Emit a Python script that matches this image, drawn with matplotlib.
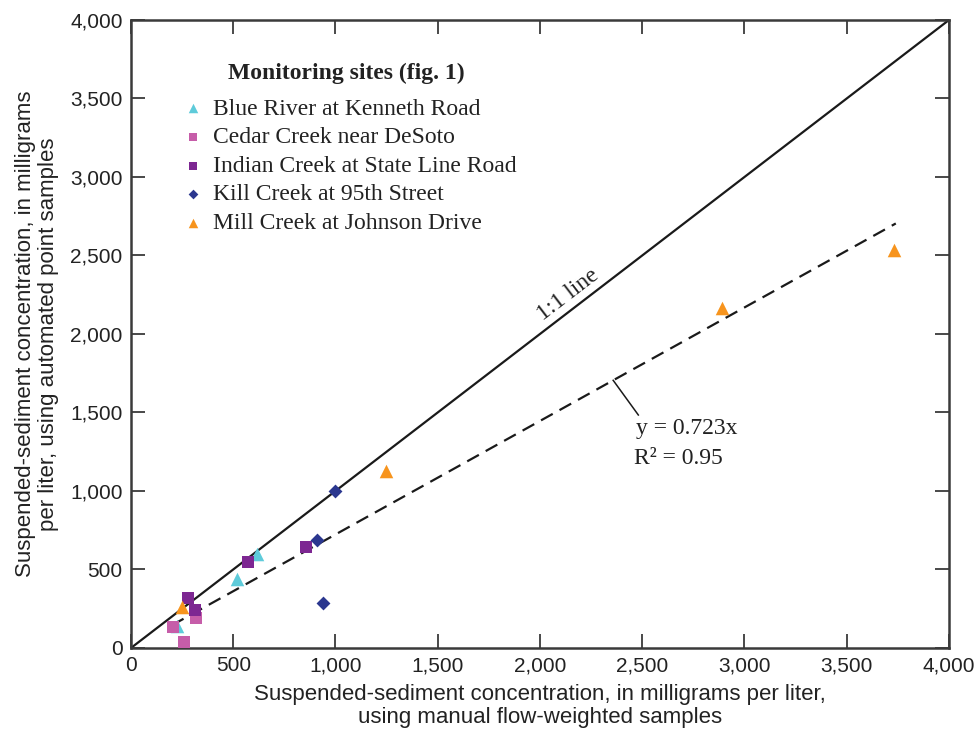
import matplotlib
matplotlib.use("Agg")
import matplotlib.pyplot as plt
import numpy as np
from matplotlib.ticker import FuncFormatter

# manual (x) vs automated (y) concentrations, mg/L
blue_x = [223, 520, 615]
blue_y = [140, 439, 599]
cedar_x = [204, 261, 316]
cedar_y = [136, 40, 193]
indian_x = [280, 313, 572, 854]
indian_y = [316, 242, 550, 643]
kill_x = [908, 940, 1000]
kill_y = [688, 285, 1002]
mill_x = [248, 1247, 2890, 3731]
mill_y = [263, 1127, 2166, 2535]

slope = 0.723
fit_x = [200, 3740]
ticks = [0, 500, 1000, 1500, 2000, 2500, 3000, 3500, 4000]

sans = ["Liberation Sans Narrow", "Liberation Sans", "DejaVu Sans"]
serif = ["Liberation Serif", "DejaVu Serif"]
axcol = "#3a3a3a"
txtcol = "#222222"

fig = plt.figure(figsize=(9.76, 7.38), dpi=100)
ax = fig.add_axes([0.1342, 0.1220, 0.8381, 0.8509])

ax.plot([0, 4000], [0, 4000], color="#1a1a1a", lw=1.6, zorder=2)
ax.plot(fit_x, [slope * v for v in fit_x], color="#1a1a1a", lw=1.6,
        ls=(0, (6, 3.5)), zorder=2)

ax.scatter(blue_x, blue_y, marker="^", s=95, color="#5ECBDA", zorder=3,
           label="Blue River at Kenneth Road", linewidths=0)
ax.scatter(cedar_x, cedar_y, marker="s", s=75, color="#C65DA9", zorder=3,
           label="Cedar Creek near DeSoto", linewidths=0)
ax.scatter(indian_x, indian_y, marker="s", s=75, color="#7D2792", zorder=3,
           label="Indian Creek at State Line Road", linewidths=0)
ax.scatter(kill_x, kill_y, marker="D", s=50, color="#2B378F", zorder=3,
           label="Kill Creek at 95th Street", linewidths=0)
ax.scatter(mill_x, mill_y, marker="^", s=95, color="#F7941D", zorder=3,
           label="Mill Creek at Johnson Drive", linewidths=0)

ax.set_xlim(0, 4000)
ax.set_ylim(0, 4000)
ax.set_xticks(ticks)
ax.set_yticks(ticks)
fmt = FuncFormatter(lambda v, p: f"{int(v):,}")
ax.xaxis.set_major_formatter(fmt)
ax.yaxis.set_major_formatter(fmt)
ax.tick_params(direction="in", length=10, width=1.3, color=axcol,
               top=True, right=True, labelsize=15, pad=6)
for lab in ax.get_xticklabels() + ax.get_yticklabels():
    lab.set_family(sans)
    lab.set_color(txtcol)
for sp in ax.spines.values():
    sp.set_linewidth(1.8)
    sp.set_color(axcol)

ax.set_xlabel("Suspended-sediment concentration, in milligrams per liter,\n"
              "using manual flow-weighted samples",
              family=sans, fontsize=16, color=txtcol, labelpad=6,
              linespacing=1.15)
ax.set_ylabel("Suspended-sediment concentration, in milligrams\n"
              "per liter, using automated point samples",
              family=sans, fontsize=16, color=txtcol, labelpad=8,
              linespacing=1.15)

ax.text(2137, 2248, "1:1 line", family=serif, fontsize=17, rotation=37.5,
        rotation_mode="anchor", ha="center", va="center", color=txtcol)

# leader from regression line to equation
lx0, lx1, ly1 = 2358, 2481, 1484
ax.plot([lx0, lx1], [slope * lx0, ly1], color="#1a1a1a", lw=1.1, zorder=2)
ax.text(2470, 1400, "y = 0.723x", family=serif, fontsize=17,
        ha="left", va="center", color=txtcol)
ax.text(2460, 1205, "R² = 0.95", family=serif, fontsize=17,
        ha="left", va="center", color=txtcol)

leg = ax.legend(loc="upper left", bbox_to_anchor=(0.061, 0.8756),
                frameon=False, prop={"family": serif, "size": 17},
                handlelength=1.0, handletextpad=0.38, labelspacing=0.30,
                borderaxespad=0, borderpad=0, markerscale=0.7)
for t in leg.get_texts():
    t.set_color(txtcol)
ax.text(0.1186, 0.9156, "Monitoring sites (fig. 1)", transform=ax.transAxes,
        family=serif, fontsize=17, fontweight="bold", color=txtcol,
        ha="left", va="center")

fig.savefig("out.png", dpi=100)
